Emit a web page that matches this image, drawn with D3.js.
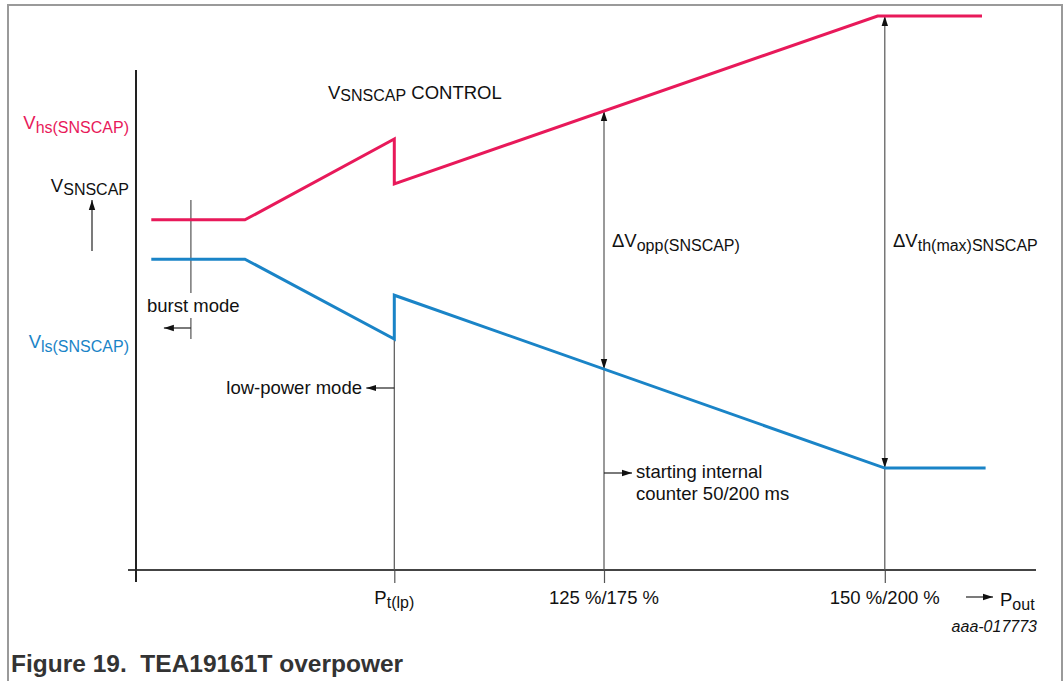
<!DOCTYPE html>
<html><head><meta charset="utf-8">
<script src="https://cdn.jsdelivr.net/npm/d3@7/dist/d3.min.js"></script>
<style>
html,body{margin:0;padding:0;background:#fff;}
svg{display:block;font-family:"Liberation Sans",Arial,sans-serif;}
</style></head>
<body>
<svg id="chart" width="1064" height="681"></svg>
<script>
// ---- data (abstract units: x = Pout, y = V_SNSCAP) ----
const hsX = [1.7, 12.1, 28.7, 28.7, 82.4, 94.0];
const hsY = [63.2, 63.2, 77.8, 69.7, 100, 100];
const lsX = [1.7, 12.1, 28.7, 28.7, 83.2, 94.4];
const lsY = [56.1, 56.1, 41.7, 49.6, 18.4, 18.4];
const tickX = [28.7, 52, 83.2];
const tickLabels = [["P", "t(lp)"], ["125 %/175 %"], ["150 %/200 %"]];
const burstX = 6.1;

const RED = "#e8195a", BLUE = "#1a84c7";
const FS = 18.5, SUB = 16;

const svg = d3.select("#chart");
const x = d3.scaleLinear().domain([0, 100]).range([136, 1036]);
const y = d3.scaleLinear().domain([0, 100]).range([570, 16]);

// frame
svg.append("path").attr("d", "M8,690V5H1062V690").attr("fill", "none")
  .attr("stroke", "#9a9a9a").attr("stroke-width", 2);

const defs = svg.append("defs");
defs.append("marker").attr("id", "arr").attr("viewBox", "0 -4 10 8")
  .attr("markerUnits", "userSpaceOnUse").attr("markerWidth", 10).attr("markerHeight", 8)
  .attr("refX", 10).attr("refY", 0).attr("orient", "auto-start-reverse")
  .append("path").attr("d", "M0,-3.2L10,0L0,3.2Z").attr("fill", "#111");

function interp(xs, ys, xv) {
  for (let i = 0; i < xs.length - 1; i++) {
    if (xv >= xs[i] && xv <= xs[i + 1] && xs[i + 1] > xs[i]) {
      const t = (xv - xs[i]) / (xs[i + 1] - xs[i]);
      return ys[i] + t * (ys[i + 1] - ys[i]);
    }
  }
  return xv > xs[xs.length - 1] ? ys[ys.length - 1] : ys[0];
}

// axes
const axis = d3.axisBottom(x).tickValues(tickX).tickFormat("").tickSize(13).tickSizeOuter(0);
const gx = svg.append("g").attr("transform", `translate(0,${y(0)})`).call(axis);
gx.select(".domain").remove();
gx.selectAll(".tick line").attr("stroke", "#555").attr("stroke-width", 1.2);
svg.append("line").attr("x1", x(0) - 8).attr("x2", x(100)).attr("y1", y(0)).attr("y2", y(0))
  .attr("stroke", "#444").attr("stroke-width", 2.2);
svg.append("line").attr("x1", x(0)).attr("x2", x(0)).attr("y1", 70).attr("y2", y(0) + 12)
  .attr("stroke", "#222").attr("stroke-width", 2);

// vertical marker lines
const gray = "#555";
svg.append("line").attr("x1", x(tickX[0])).attr("x2", x(tickX[0]))
  .attr("y1", y(interp(lsX, lsY, tickX[0] - 0.01))).attr("y2", y(0))
  .attr("stroke", gray).attr("stroke-width", 1.2);
[tickX[1], tickX[2]].forEach(tx => {
  const yr = interp(hsX, hsY, tx), yb = interp(lsX, lsY, tx);
  svg.append("line").attr("x1", x(tx)).attr("x2", x(tx)).attr("y1", y(yb)).attr("y2", y(yr))
    .attr("stroke", gray).attr("stroke-width", 1.2)
    .attr("marker-start", "url(#arr)").attr("marker-end", "url(#arr)");
  svg.append("line").attr("x1", x(tx)).attr("x2", x(tx)).attr("y1", y(yb)).attr("y2", y(0))
    .attr("stroke", gray).attr("stroke-width", 1.2);
});
svg.append("line").attr("x1", x(burstX)).attr("x2", x(burstX)).attr("y1", 200).attr("y2", 293)
  .attr("stroke", gray).attr("stroke-width", 1.2);
svg.append("line").attr("x1", x(burstX)).attr("x2", x(burstX)).attr("y1", 318).attr("y2", 339)
  .attr("stroke", gray).attr("stroke-width", 1.2);
function harrow(x1, x2, yy) {
  svg.append("line").attr("x1", x1).attr("x2", x2).attr("y1", yy).attr("y2", yy)
    .attr("stroke", "#222").attr("stroke-width", 1.2).attr("marker-end", "url(#arr)");
}
harrow(x(burstX), x(burstX) - 27, 328);
harrow(x(tickX[0]), x(tickX[0]) - 28, 388);
harrow(x(tickX[1]), x(tickX[1]) + 28, 473);
harrow(966, 993, 597);
svg.append("line").attr("x1", 92).attr("x2", 92).attr("y1", 251).attr("y2", 200)
  .attr("stroke", "#222").attr("stroke-width", 1.2).attr("marker-end", "url(#arr)");

// series lines
const line = d3.line().x(d => x(d[0])).y(d => y(d[1]));
svg.append("path").datum(hsX.map((v, i) => [v, hsY[i]])).attr("d", line)
  .attr("fill", "none").attr("stroke", RED).attr("stroke-width", 3).attr("stroke-linejoin", "miter");
svg.append("path").datum(lsX.map((v, i) => [v, lsY[i]])).attr("d", line)
  .attr("fill", "none").attr("stroke", BLUE).attr("stroke-width", 3).attr("stroke-linejoin", "miter");

// text helper
function label(px, py, parts, opts = {}) {
  const t = svg.append("text").attr("x", px).attr("y", py)
    .attr("font-size", opts.size || FS).attr("fill", opts.color || "#111")
    .attr("text-anchor", opts.anchor || "start");
  let shifted = false;
  parts.forEach(p => {
    const sub = typeof p === "object";
    const s = t.append("tspan").text(sub ? p.t : p);
    if (sub) { s.attr("font-size", p.size || SUB); if (!shifted) { s.attr("dy", p.dy || 4); shifted = p.dy || 4; } }
    else if (shifted) { s.attr("dy", -shifted); shifted = false; }
  });
  return t;
}

label(129, 129, ["V", {t: "hs(SNSCAP)"}], {anchor: "end", color: RED});
label(129, 192, ["V", {t: "SNSCAP", dy: 3}], {anchor: "end"});
label(129, 348, ["V", {t: "ls(SNSCAP)"}], {anchor: "end", color: BLUE});
label(328, 99, ["V", {t: "SNSCAP", dy: 2}, " CONTROL"]);
label(147, 312, ["burst mode"]);
label(362, 394, ["low-power mode"], {anchor: "end"});
label(636, 478, ["starting internal"]);
label(636, 500, ["counter 50/200 ms"]);
label(612, 247, ["ΔV", {t: "opp(SNSCAP)"}]);
label(893, 247, ["ΔV", {t: "th(max)SNSCAP"}]);
tickLabels.forEach((tl, i) => {
  const parts = tl.length > 1 ? [tl[0], {t: tl[1]}] : tl;
  label(x(tickX[i]), 604, parts, {anchor: "middle"});
});
label(1000, 606, ["P", {t: "out"}]);
svg.append("text").attr("x", 1037).attr("y", 632).attr("text-anchor", "end")
  .attr("font-size", 16).attr("font-style", "italic").attr("fill", "#111").text("aaa-017773");
svg.append("text").attr("x", 11).attr("y", 672).attr("font-size", 24.5).attr("font-weight", "bold")
  .attr("fill", "#333").attr("xml:space", "preserve").style("white-space", "pre")
  .text("Figure 19.  TEA19161T overpower");
</script>
</body></html>
